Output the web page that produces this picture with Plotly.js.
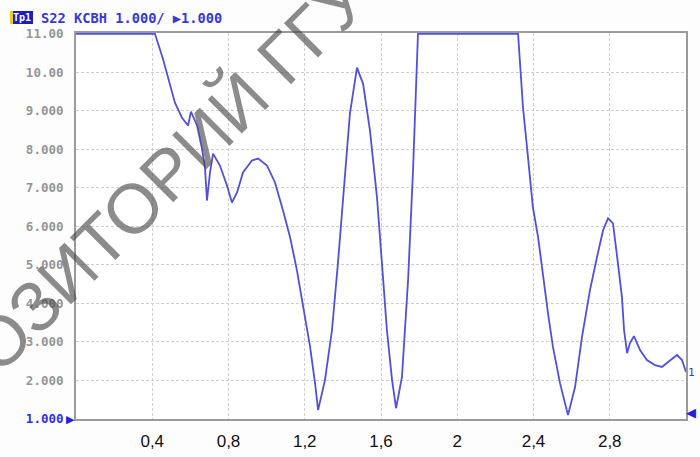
<!DOCTYPE html>
<html>
<head>
<meta charset="utf-8">
<script src="https://cdn.plot.ly/plotly-3.0.1.min.js"></script>
<style>html,body{margin:0;padding:0;background:#fff;}#chart{width:700px;height:457px;}</style>
</head>
<body>
<div id="chart"></div>
<script>
// Frequency, GHz
const freq = [0, 0.414, 0.456, 0.493, 0.519, 0.556, 0.588, 0.603, 0.635, 0.661, 0.677, 0.687, 0.703, 0.719, 0.755, 0.792, 0.818, 0.845, 0.876, 0.923, 0.955, 1.002, 1.044, 1.086, 1.123, 1.159, 1.191, 1.228, 1.254, 1.270, 1.306, 1.343, 1.374, 1.411, 1.437, 1.474, 1.506, 1.542, 1.579, 1.605, 1.631, 1.658, 1.679, 1.710, 1.742, 1.768, 1.789, 1.794, 2.319, 2.329, 2.345, 2.366, 2.382, 2.397, 2.424, 2.450, 2.476, 2.502, 2.539, 2.581, 2.618, 2.654, 2.696, 2.733, 2.765, 2.791, 2.817, 2.843, 2.864, 2.875, 2.891, 2.906, 2.927, 2.959, 2.995, 3.037, 3.074, 3.106, 3.153, 3.179, 3.2];
// VSWR (КСВН), clipped at 11 by the display
const vswr = [11, 11, 10.35, 9.65, 9.21, 8.82, 8.62, 8.98, 8.62, 8.02, 7.50, 6.67, 7.40, 7.89, 7.58, 7.06, 6.62, 6.88, 7.40, 7.71, 7.76, 7.58, 7.14, 6.41, 5.72, 4.86, 3.90, 2.87, 1.93, 1.23, 2.01, 3.31, 5.04, 7.19, 8.93, 10.12, 9.70, 8.49, 6.75, 5.04, 3.31, 2.01, 1.28, 2.09, 4.60, 7.45, 9.96, 11, 11, 10.22, 9.08, 8.05, 7.19, 6.49, 5.72, 4.68, 3.75, 2.87, 1.93, 1.10, 1.83, 3.12, 4.34, 5.20, 5.90, 6.21, 6.08, 5.04, 4.16, 3.31, 2.71, 2.97, 3.15, 2.79, 2.53, 2.40, 2.35, 2.48, 2.66, 2.53, 2.22];

const xTickVals = [0.4, 0.8, 1.2, 1.6, 2.0, 2.4, 2.8, 3.2];
const xTickText = ['0,4', '0,8', '1,2', '1,6', '2', '2,4', '2,8', 'ГГц'];
const yTickVals = [1, 2, 3, 4, 5, 6, 7, 8, 9, 10, 11];
const yTickText = ['<span style="color:#3030e0">1.000</span>', '2.000', '3.000', '4.000', '5.000', '6.000', '7.000', '8.000', '9.000', '10.00', '11.00'];

const L = 76, T = 33, W = 610, H = 386;
function px(x) { return (x - L) / W; }
function py(y) { return (T + H - y) / H; }

const trace = {
  x: freq, y: vswr, type: 'scatter', mode: 'lines',
  line: {color: '#5050dc', width: 1.8, shape: 'linear'},
  hoverinfo: 'skip'
};

const layout = {
  width: 700, height: 457,
  margin: {l: L, r: 700 - L - W, t: T, b: 457 - T - H},
  paper_bgcolor: '#fdfdfd', plot_bgcolor: '#ffffff',
  showlegend: false,
  xaxis: {
    range: [0, 3.2], tickvals: xTickVals, ticktext: xTickText,
    showgrid: true, gridcolor: '#cfcfcf', griddash: '3px,2px', gridwidth: 1,
    zeroline: false, showline: true, mirror: true, linecolor: '#9a9a9a', linewidth: 2,
    ticks: '', ticklabelstandoff: 6,
    tickfont: {family: 'Liberation Sans, Arial, sans-serif', size: 17, color: '#111'}
  },
  yaxis: {
    range: [1, 11.02], tickvals: yTickVals, ticktext: yTickText,
    showgrid: true, gridcolor: '#cfcfcf', griddash: '3px,2px', gridwidth: 1,
    zeroline: false, showline: true, mirror: true, linecolor: '#9a9a9a', linewidth: 2,
    ticks: '', ticklabelstandoff: 8,
    tickfont: {family: 'DejaVu Sans Mono, monospace', size: 12.5, color: '#959595', weight: 'bold'}
  },
  shapes: [
    {type: 'rect', xref: 'paper', yref: 'paper', x0: px(10), x1: px(33), y0: py(24), y1: py(11), fillcolor: '#1c1cc8', line: {width: 0}, layer: 'above'},
    {type: 'rect', xref: 'paper', yref: 'paper', x0: px(10), x1: px(13), y0: py(24), y1: py(11), fillcolor: '#e8d020', line: {width: 0}, layer: 'above'}
  ],
  annotations: [
    {xref: 'paper', yref: 'paper', x: px(21.5), y: py(17.5), xanchor: 'center', yanchor: 'middle', showarrow: false,
     text: 'Тр1', font: {family: 'DejaVu Sans Mono, monospace', size: 10, color: '#ffffff', weight: 'bold'}},
    {xref: 'paper', yref: 'paper', x: px(39), y: py(17.5), xanchor: 'left', yanchor: 'middle', showarrow: false,
     text: 'S22 КСВН 1.000/ ▶1.000', font: {family: 'DejaVu Sans Mono, monospace', size: 13.7, color: '#3838d8', weight: 'bold'}},
    {xref: 'paper', yref: 'paper', x: 0, y: 0, xanchor: 'right', yanchor: 'middle', showarrow: false, xshift: 1,
     text: '▶', font: {family: 'DejaVu Sans, sans-serif', size: 11, color: '#2020e0'}},
    {xref: 'paper', yref: 'paper', x: 1, y: 0, xanchor: 'left', yanchor: 'bottom', showarrow: false, xshift: -2, yshift: -3,
     text: '◀', font: {family: 'DejaVu Sans, sans-serif', size: 13, color: '#2020e0'}},
    {xref: 'x', yref: 'y', x: 3.2, y: 2.22, xanchor: 'left', yanchor: 'middle', showarrow: false,
     text: '1', font: {family: 'DejaVu Sans Mono, monospace', size: 11, color: '#3838d8'}},
    {xref: 'paper', yref: 'paper', x: px(117), y: py(223), xanchor: 'center', yanchor: 'middle', showarrow: false,
     textangle: -45, text: 'РЕПОЗИТОРИЙ ГГУ',
     font: {family: 'Liberation Sans, Arial, sans-serif', size: 70, color: 'rgba(70,70,70,0.62)'}}
  ]
};

Plotly.newPlot('chart', [trace], layout, {displayModeBar: false, staticPlot: true});
</script>
</body>
</html>
